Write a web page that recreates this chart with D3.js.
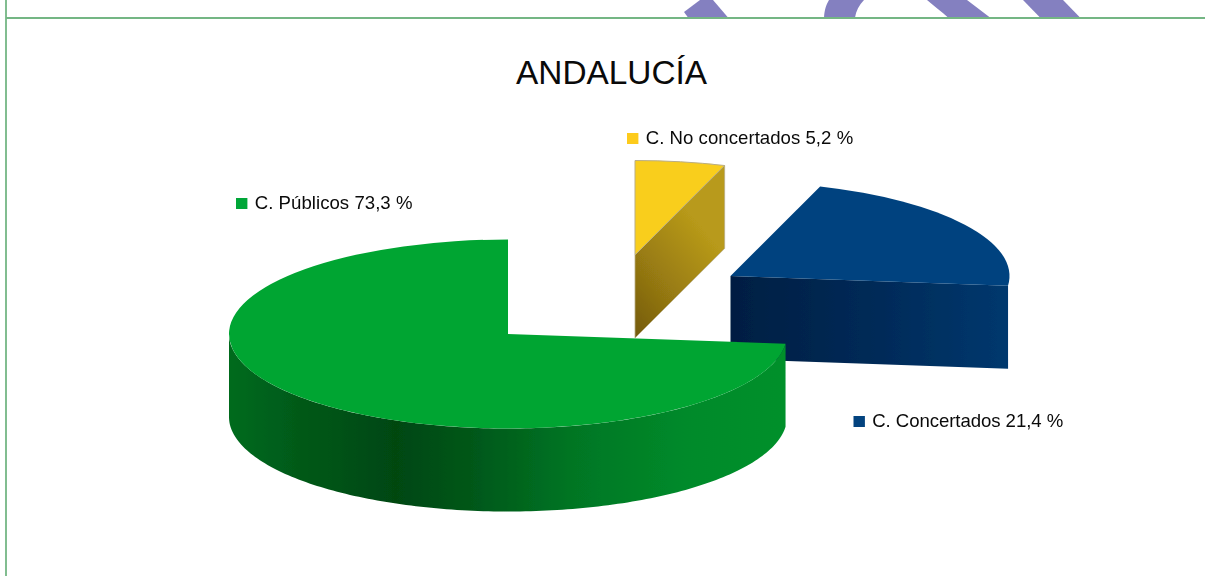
<!DOCTYPE html>
<html lang="es">
<head>
<meta charset="utf-8">
<title>Andalucía</title>
<script src="https://cdn.jsdelivr.net/npm/d3@7/dist/d3.min.js"></script>
<style>
html,body{margin:0;padding:0;background:#fff;overflow:hidden}
svg{display:block}
text{font-family:"Liberation Sans",Arial,sans-serif;fill:#0a0a0a}
</style>
</head>
<body>
<svg id="chart" width="1205" height="576"></svg>
<script>
const chartTitle = "ANDALUCÍA";
const categories = ["C. No concertados", "C. Concertados", "C. Públicos"];
const shares = [5.2, 21.4, 73.3];
const topColors = ["#f9ce1e", "#03437f", "#02a533"];
const legendColors = ["#fdcb1c", "#03437f", "#00a638"];

// Layout settings, per category order
const W = 1205, H = 576;
const center = {x: 508, y: 334}, rx = 279, ry = 94.5, depth = 83;
const explode = [{dx: 127, dy: -79}, {dx: 222.5, dy: -58}, {dx: 0, dy: 0}];
const legendAnchor = [{x: 627, y: 133}, {x: 853.5, y: 416}, {x: 236, y: 198}];
const labelWidth = [207.5, 191, 157.8];
const drawOrder = [0, 1, 2];

const svg = d3.select("#chart");
const defs = svg.append("defs");

function gradient(id, coords, stops) {
  const g = defs.append("linearGradient").attr("id", id)
    .attr("x1", coords[0]).attr("y1", coords[1]).attr("x2", coords[2]).attr("y2", coords[3]);
  stops.forEach(s => g.append("stop").attr("offset", s[0]).attr("stop-color", s[1]));
}
gradient("wall2", [0, 0, 1, 0], [[0, "#066b1e"], [0.12, "#045a19"], [0.3, "#034711"], [0.45, "#04591a"], [0.62, "#057624"], [0.82, "#068a2a"], [1, "#06902c"]]);
gradient("cut0", [0, 1, 0.5, 0.2], [[0, "#735a0e"], [0.5, "#9a7d12"], [1, "#b89a1a"]]);
gradient("cut1", [0, 0, 1, 0], [[0, "#011e42"], [0.55, "#022b59"], [1, "#03386e"]]);
defs.append("filter").attr("id", "soft").attr("x", "-5%").attr("y", "-5%").attr("width", "110%").attr("height", "110%")
  .append("feGaussianBlur").attr("stdDeviation", 0.5);

// Page decoration above the rule: fragments of the watermark
const deco = svg.append("g").attr("fill", "#8480c0");
[
  "M684,12 L700,0 L713,0 L728,17.5 L688,17.5 Z",
  "M824,17.5 C824.5,10 826,5 829,0 L864,0 C859,5 856,11 855,17.5 Z",
  "M927,0 L967,0 L990,17.5 L948,17.5 C942,12 934,6 927,0 Z",
  "M1023,0 L1063,0 L1080,17.5 L1040,17.5 Z"
].forEach(d => deco.append("path").attr("d", d));

// Page rules
svg.append("line").attr("x1", 6).attr("x2", W).attr("y1", 18).attr("y2", 18)
  .attr("stroke", "#74b684").attr("stroke-width", 1.8);
svg.append("line").attr("x1", 6).attr("x2", 6).attr("y1", 0).attr("y2", H)
  .attr("stroke", "#74b684").attr("stroke-width", 1.8);

svg.append("text").attr("x", 516).attr("y", 84).attr("font-size", 33.4).text(chartTitle);

// Pie geometry from data
const slices = d3.pie().sort(null).value(d => d)(shares);
const arcTop = d3.arc().innerRadius(0).outerRadius(rx);
const px = a => rx * Math.sin(a), py = a => -ry * Math.cos(a);
const wall = d3.area().x(d => px(d)).y0(d => py(d)).y1(d => py(d) + depth);
const cut = a => d3.area().x(t => t * px(a)).y0(t => t * py(a)).y1(t => t * py(a) + depth);

const pie = svg.append("g").attr("filter", "url(#soft)");
drawOrder.forEach(i => {
  const s = slices[i], off = explode[i];
  const g = pie.append("g").attr("transform", `translate(${center.x + off.dx},${center.y + off.dy})`);
  // curved front wall
  const a0 = Math.max(s.startAngle, Math.PI / 2), a1 = Math.min(s.endAngle, 3 * Math.PI / 2);
  if (a1 > a0 && i === 2) {
    const n = 160;
    g.append("path").attr("d", wall(d3.range(n + 1).map(k => a0 + (a1 - a0) * k / n)))
      .attr("fill", `url(#wall${i})`);
  }
  // radial cut face turned to the viewer
  if (s.endAngle < Math.PI) {
    g.append("path").attr("d", cut(s.endAngle)([0, 1])).attr("fill", `url(#cut${i})`)
      .attr("stroke", i === 0 ? "#b9ad84" : "none")
      .attr("stroke-width", i === 0 ? 0.8 : 0);
  }
  // top face
  g.append("path").attr("d", arcTop(s))
    .attr("transform", `scale(1,${ry / rx})`)
    .attr("fill", topColors[i])
    .attr("stroke", i === 0 ? "#b9ad84" : "none")
    .attr("stroke-width", i === 0 ? 1 : 0)
    .attr("vector-effect", "non-scaling-stroke");
});

// Legend labels
const label = (c, v) => `${c} ${String(v).replace(".", ",")} %`;
categories.forEach((c, i) => {
  const a = legendAnchor[i];
  svg.append("rect").attr("x", a.x).attr("y", a.y).attr("width", 11.4).attr("height", 11)
    .attr("fill", legendColors[i]);
  svg.append("text").attr("x", a.x + 18.7).attr("y", a.y + 11).attr("font-size", 18.6)
    .attr("textLength", labelWidth[i]).attr("lengthAdjust", "spacing")
    .text(label(c, shares[i]));
});
</script>
</body>
</html>
